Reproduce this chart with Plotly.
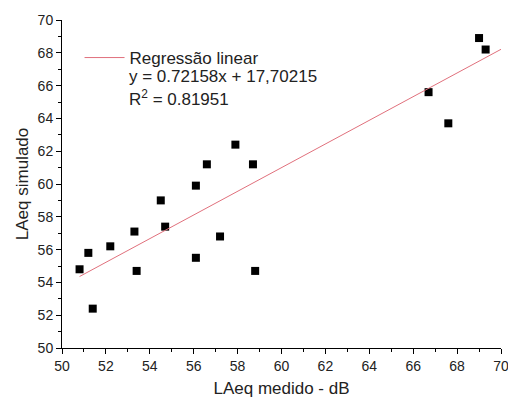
import plotly.graph_objects as go

x_medido = [50.8, 51.2, 51.4, 52.2, 53.3, 53.4, 54.5, 54.7, 56.1, 56.1, 56.6, 57.2, 57.9, 58.7, 58.8, 66.7, 67.6, 69.0, 69.3]
y_simulado = [54.8, 55.8, 52.4, 56.2, 57.1, 54.7, 59.0, 57.4, 59.9, 55.5, 61.2, 56.8, 62.4, 61.2, 54.7, 65.6, 63.7, 68.9, 68.2]

slope = 0.72158
intercept = 17.70215
r2 = 0.81951
fit_x = [50.8, 70.0]
fit_y = [slope * v + intercept for v in fit_x]

font = "Liberation Sans, Arial, sans-serif"

fig = go.Figure()
fig.add_trace(go.Scatter(
    x=x_medido, y=y_simulado, mode="markers",
    marker=dict(symbol="square", size=8, color="black"),
    showlegend=False, cliponaxis=False,
))
fig.add_trace(go.Scatter(
    x=fit_x, y=fit_y, mode="lines",
    line=dict(color="#e0707c", width=1),
    name="Regressão linear", showlegend=True,
))

axis_common = dict(
    showgrid=False, zeroline=False, showline=True, linecolor="black", linewidth=1,
    ticks="outside", ticklen=5, tickwidth=1, tickcolor="black",
    tickfont=dict(family=font, size=14, color="#222"),
    minor=dict(ticks="outside", ticklen=3, tickwidth=1, tickcolor="black", dtick=1, showgrid=False),
    mirror=False, automargin=False, ticklabeloverflow="allow",
)

fig.update_layout(
    width=508, height=398,
    margin=dict(l=62, r=7, t=20, b=50),
    plot_bgcolor="white", paper_bgcolor="white",
    font=dict(family=font, color="#222"),
    xaxis=dict(range=[50, 70.0001], dtick=2, tick0=50,
               title=dict(text="LAeq medido - dB", font=dict(family=font, size=17), standoff=11),
               **axis_common),
    yaxis=dict(range=[50, 70.0001], dtick=2, tick0=50,
               title=dict(text="LAeq simulado", font=dict(family=font, size=17), standoff=4),
               **axis_common),
    legend=dict(x=0.04, y=0.939, xanchor="left", yanchor="top",
                bgcolor="rgba(0,0,0,0)", font=dict(family=font, size=17, color="#222"),
                itemwidth=40),
    annotations=[
        dict(xref="paper", yref="paper", x=0.148, y=0.828, xanchor="left", yanchor="middle",
             text="y = 0.72158x + 17,70215", showarrow=False,
             font=dict(family=font, size=17, color="#222")),
        dict(xref="paper", yref="paper", x=0.148, y=0.762, xanchor="left", yanchor="middle",
             text="R<sup>2</sup> = 0.81951", showarrow=False,
             font=dict(family=font, size=17, color="#222")),
    ],
)

fig.write_html("out.html", config={"displayModeBar": False},
               post_script="document.body.style.margin='0';document.body.style.overflow='hidden';")
